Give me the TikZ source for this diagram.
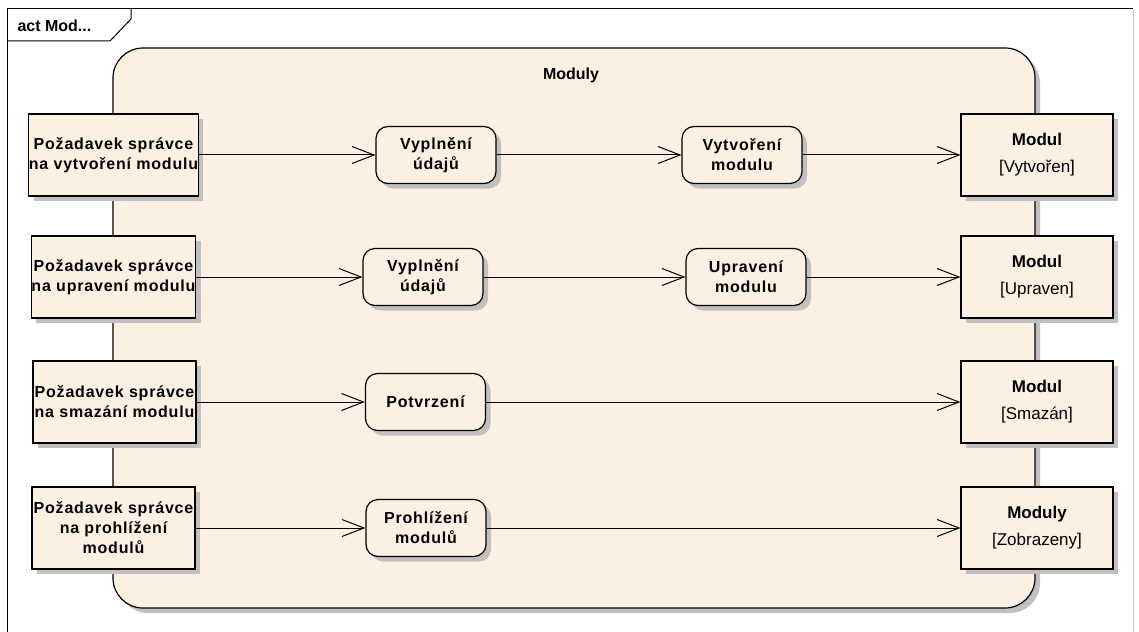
\documentclass[tikz,border=0pt]{standalone}
\usepackage{fontspec}
\setmainfont{Liberation Sans}
\newfontfamily\labelfont[LetterSpace=5]{Liberation Sans}
\usetikzlibrary{arrows.meta,shadows}
\definecolor{paper}{RGB}{251,240,226}
\definecolor{shade}{RGB}{192,192,192}

\begin{document}
\begin{tikzpicture}[x=1pt,y=-1pt,
  txt/.style={font=\labelfont\fontsize{16}{20}\selectfont\bfseries, align=center},
  shadowed/.style={drop shadow={shadow xshift=5pt,shadow yshift=-5pt,fill=shade,opacity=1}},
  reqbox/.style={txt, draw, line width=1.2pt, fill=paper, shadowed,
    minimum width=163pt, minimum height=82pt, inner sep=0pt},
  actbox/.style={txt, draw, line width=1.2pt, fill=paper, rounded corners=12pt, shadowed,
    minimum width=120pt, minimum height=57pt, inner sep=0pt},
  objbox/.style={draw, line width=1.2pt, fill=paper, shadowed, align=center,
    minimum width=152pt, minimum height=82pt, inner sep=0pt,
    font=\fontsize{17}{27}\selectfont},
  flow/.style={line width=1pt, -{Straight Barb[length=22pt,width=17pt]}}
]
\useasboundingbox (0,0) rectangle (1139,631);

% diagram frame with its name tag
\draw[line width=1pt] (7,640) -- (7,9) -- (1133,9);
\draw[line width=1pt, black!20] (1133,9) -- (1133,640);
\draw[line width=1pt] (7,41) -- (110,41) -- (131,19) -- (131,9);
\node[anchor=west, font=\fontsize{16}{18}\selectfont\bfseries] (tag) at (14,26) {act Mod...};

% activity partition
\node[draw, line width=1.2pt, fill=paper, rounded corners=30pt, shadowed,
  minimum width=922pt, minimum height=560pt] (part) at (574,328) {};
\node[font=\fontsize{16}{18}\selectfont\bfseries] (parttitle) at (571,75) {Moduly};

% row 1: create
\node[reqbox] (req1) at (113.5,155) {Požadavek správce\\na vytvoření modulu};
\node[actbox] (fill1) at (436,155) {Vyplnění\\údajů};
\node[actbox] (create) at (742,155) {Vytvoření\\modulu};
\node[objbox] (obj1) at (1037,155) {\textbf{Modul}\\{[Vytvořen]}};
\draw[flow] (req1) -- (fill1);
\draw[flow] (fill1) -- (create);
\draw[flow] (create) -- (obj1);

% row 2: edit
\node[reqbox] (req2) at (113.5,277) {Požadavek správce\\na upravení modulu};
\node[actbox] (fill2) at (423,277) {Vyplnění\\údajů};
\node[actbox] (edit) at (746,277) {Upravení\\modulu};
\node[objbox] (obj2) at (1037,277) {\textbf{Modul}\\{[Upraven]}};
\draw[flow] (req2) -- (fill2);
\draw[flow] (fill2) -- (edit);
\draw[flow] (edit) -- (obj2);

% row 3: delete
\node[reqbox] (req3) at (114.5,402) {Požadavek správce\\na smazání modulu};
\node[actbox] (confirm) at (425.5,402) {Potvrzení};
\node[objbox] (obj3) at (1037,402) {\textbf{Modul}\\{[Smazán]}};
\draw[flow] (req3) -- (confirm);
\draw[flow] (confirm) -- (obj3);

% row 4: browse
\node[reqbox] (req4) at (113.5,528) {Požadavek správce\\na prohlížení\\modulů};
\node[actbox] (browse) at (426,528) {Prohlížení\\modulů};
\node[objbox] (obj4) at (1037,528) {\textbf{Moduly}\\{[Zobrazeny]}};
\draw[flow] (req4) -- (browse);
\draw[flow] (browse) -- (obj4);
\end{tikzpicture}
\end{document}
